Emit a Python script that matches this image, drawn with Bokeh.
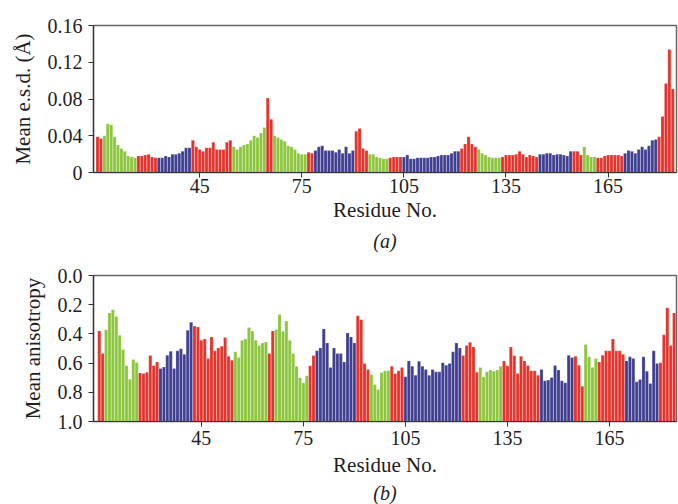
from bokeh.plotting import figure
from bokeh.models import Range1d, FixedTicker, ColumnDataSource, Title
from bokeh.layouts import column
from bokeh.embed import file_html
from bokeh.resources import INLINE

# ---------------- data ----------------
first_residue = 15
last_residue = 184

# colour segments (class per residue range)
seg_start = [15, 17, 27, 33, 43, 55, 65, 67, 77, 79, 91, 95, 101, 105, 122, 127, 134, 145, 155, 158, 162, 170, 180]
seg_end   = [16, 26, 32, 42, 54, 64, 66, 76, 78, 90, 94, 100, 104, 121, 126, 133, 144, 154, 157, 161, 169, 179, 184]
seg_class = ["R", "G", "R", "B", "R", "G", "R", "G", "R", "B", "R", "G", "R", "B", "R", "G", "R", "B", "R", "G", "R", "B", "R"]

mean_esd = [
    0.039, 0.037, 0.040, 0.053, 0.052, 0.039, 0.030, 0.026, 0.023, 0.018,
    0.017, 0.016, 0.018, 0.018, 0.019, 0.020, 0.017, 0.016, 0.016, 0.016,
    0.018, 0.017, 0.020, 0.020, 0.021, 0.023, 0.027, 0.027, 0.035, 0.028,
    0.025, 0.023, 0.027, 0.027, 0.033, 0.025, 0.025, 0.025, 0.033, 0.035,
    0.028, 0.025, 0.028, 0.030, 0.031, 0.035, 0.040, 0.038, 0.043, 0.049,
    0.081, 0.058, 0.040, 0.038, 0.036, 0.034, 0.029, 0.028, 0.025, 0.021,
    0.020, 0.020, 0.022, 0.021, 0.024, 0.028, 0.029, 0.024, 0.024, 0.024,
    0.022, 0.025, 0.021, 0.028, 0.021, 0.024, 0.045, 0.048, 0.026, 0.024,
    0.020, 0.020, 0.017, 0.016, 0.015, 0.015, 0.016, 0.017, 0.017, 0.017,
    0.017, 0.019, 0.015, 0.015, 0.016, 0.016, 0.016, 0.016, 0.017, 0.017,
    0.018, 0.019, 0.019, 0.019, 0.021, 0.023, 0.023, 0.026, 0.031, 0.039,
    0.031, 0.028, 0.025, 0.021, 0.019, 0.017, 0.016, 0.016, 0.016, 0.017,
    0.019, 0.019, 0.019, 0.020, 0.023, 0.020, 0.017, 0.019, 0.018, 0.017,
    0.020, 0.020, 0.021, 0.021, 0.019, 0.020, 0.020, 0.019, 0.018, 0.023,
    0.023, 0.023, 0.019, 0.028, 0.019, 0.017, 0.017, 0.016, 0.016, 0.018,
    0.019, 0.019, 0.019, 0.019, 0.018, 0.021, 0.024, 0.023, 0.021, 0.025,
    0.028, 0.025, 0.029, 0.035, 0.036, 0.039, 0.061, 0.097, 0.134, 0.091,
]

mean_aniso = [
    0.380, 0.535, 0.371, 0.257, 0.234, 0.280, 0.410, 0.507, 0.619, 0.710,
    0.576, 0.596, 0.667, 0.671, 0.662, 0.548, 0.617, 0.592, 0.637, 0.626,
    0.546, 0.519, 0.637, 0.516, 0.501, 0.539, 0.375, 0.321, 0.346, 0.353,
    0.444, 0.435, 0.569, 0.421, 0.516, 0.496, 0.485, 0.425, 0.553, 0.580,
    0.523, 0.562, 0.444, 0.435, 0.357, 0.380, 0.444, 0.480, 0.462, 0.455,
    0.535, 0.380, 0.370, 0.267, 0.382, 0.312, 0.444, 0.535, 0.621, 0.701,
    0.735, 0.687, 0.619, 0.548, 0.516, 0.496, 0.366, 0.462, 0.630, 0.496,
    0.535, 0.535, 0.592, 0.394, 0.421, 0.462, 0.275, 0.303, 0.603, 0.644,
    0.678, 0.746, 0.780, 0.664, 0.653, 0.653, 0.621, 0.671, 0.653, 0.630,
    0.694, 0.585, 0.621, 0.683, 0.587, 0.621, 0.644, 0.683, 0.644, 0.660,
    0.660, 0.598, 0.614, 0.603, 0.523, 0.462, 0.496, 0.548, 0.480, 0.457,
    0.489, 0.662, 0.630, 0.694, 0.660, 0.648, 0.655, 0.648, 0.621, 0.585,
    0.619, 0.489, 0.548, 0.671, 0.553, 0.585, 0.617, 0.653, 0.653, 0.683,
    0.644, 0.721, 0.716, 0.698, 0.617, 0.648, 0.721, 0.735, 0.546, 0.562,
    0.553, 0.614, 0.758, 0.473, 0.557, 0.630, 0.569, 0.592, 0.546, 0.516,
    0.516, 0.435, 0.516, 0.516, 0.539, 0.585, 0.557, 0.569, 0.728, 0.712,
    0.557, 0.655, 0.739, 0.516, 0.603, 0.598, 0.405, 0.221, 0.480, 0.257,
]

x_ticks = [45, 75, 105, 135, 165]
esd_ticks = [0, 0.04, 0.08, 0.12, 0.16]
esd_labels = ["0", "0.04", "0.08", "0.12", "0.16"]
aniso_ticks = [0.0, 0.2, 0.4, 0.6, 0.8, 1.0]
aniso_labels = ["0.0", "0.2", "0.4", "0.6", "0.8", "1.0"]

class_color = {"R": "#e2342c", "G": "#8cc63e", "B": "#3f3f91"}

# ---------------- build ----------------
residues = list(range(first_residue, last_residue + 1))
colors = []
for r in residues:
    for s, e, c in zip(seg_start, seg_end, seg_class):
        if s <= r <= e:
            colors.append(class_color[c])
            break

FONT = "Liberation Serif"
TXT = "#1e1e1e"


def style(p, ticks, labels):
    p.xgrid.visible = False
    p.ygrid.visible = False
    p.outline_line_color = "#666666"
    p.outline_line_width = 1.5
    for ax in (p.xaxis[0], p.yaxis[0]):
        ax.axis_line_color = "#333333"
        ax.axis_line_width = 1.2
        ax.major_tick_line_color = "#333333"
        ax.major_tick_in = 0
        ax.major_tick_out = 5
        ax.minor_tick_line_color = None
        ax.major_label_text_font = FONT
        ax.major_label_text_font_size = "20px"
        ax.major_label_text_color = TXT
        ax.axis_label_text_font = FONT
        ax.axis_label_text_font_size = "21px"
        ax.axis_label_text_font_style = "normal"
        ax.axis_label_text_color = TXT
    p.xaxis.ticker = FixedTicker(ticks=x_ticks)
    p.yaxis.ticker = FixedTicker(ticks=ticks)
    p.yaxis.major_label_overrides = {t: l for t, l in zip(ticks, labels)}
    p.xaxis.major_label_standoff = 1
    p.yaxis.major_label_standoff = 6
    p.xaxis.axis_label = "Residue No."
    p.xaxis.axis_label_standoff = 2
    p.yaxis.axis_label_standoff = 10


# top panel
p1 = figure(width=678, height=258, output_backend="svg", toolbar_location=None,
            x_range=Range1d(13.8, 185.1), y_range=Range1d(0, 0.16),
            min_border_left=93, min_border_right=2, min_border_top=25, min_border_bottom=86)
src1 = ColumnDataSource(dict(x=residues, top=mean_esd, color=colors))
p1.vbar(x="x", top="top", bottom=0, width=0.92, fill_color="color",
        line_color="white", line_width=0.4, line_alpha=0.5, source=src1)
style(p1, esd_ticks, esd_labels)
p1.yaxis.axis_label = "Mean e.s.d. (Å)"
p1.add_layout(Title(text="(a)", text_font=FONT, text_font_size="20px", standoff=7,
                    text_font_style="italic", align="center", text_color=TXT), "below")

# bottom panel
p2 = figure(width=678, height=246, output_backend="svg", toolbar_location=None,
            x_range=Range1d(13.3, 184.7), y_range=Range1d(1.0, 0.0),
            min_border_left=93, min_border_right=2, min_border_top=17, min_border_bottom=83)
src2 = ColumnDataSource(dict(x=residues, top=mean_aniso, color=colors))
p2.vbar(x="x", top="top", bottom=1.0, width=0.92, fill_color="color",
        line_color="white", line_width=0.4, line_alpha=0.5, source=src2)
style(p2, aniso_ticks, aniso_labels)
p2.xaxis.major_label_standoff = 4
p2.xaxis.axis_label_standoff = 5
p2.yaxis.axis_label = "Mean anisotropy"
p2.add_layout(Title(text="(b)", text_font=FONT, text_font_size="20px", standoff=1,
                    text_font_style="italic", align="center", text_color=TXT), "below")

layout = column(p1, p2, spacing=0)
open("out.html", "w").write(file_html(layout, INLINE))
